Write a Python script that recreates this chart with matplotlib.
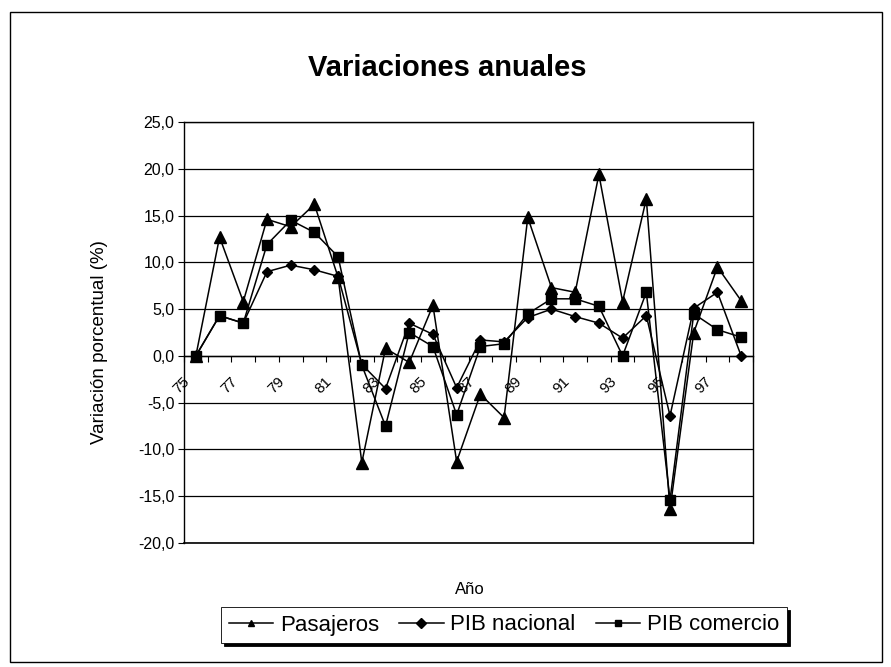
import numpy as np
import matplotlib
matplotlib.use("Agg")
import matplotlib.pyplot as plt
import matplotlib.transforms as mtransforms
from matplotlib.patches import Rectangle
from matplotlib.ticker import FuncFormatter

plt.rcParams['font.family'] = ['Liberation Sans', 'DejaVu Sans']

# data
years = ['75', '76', '77', '78', '79', '80', '81', '82', '83', '84', '85', '86',
         '87', '88', '89', '90', '91', '92', '93', '94', '95', '96', '97', '98']
pasajeros = [0.0, 12.7, 5.8, 14.6, 13.8, 16.2, 8.4, -11.4, 0.8, -0.7, 5.4, -11.3,
             -4.1, -6.6, 14.8, 7.3, 6.8, 19.4, 5.8, 16.8, -16.4, 2.5, 9.5, 5.9]
pib_nacional = [0.0, 4.3, 3.5, 9.0, 9.7, 9.2, 8.5, -0.9, -3.5, 3.5, 2.3, -3.4,
                1.7, 1.5, 4.1, 5.0, 4.2, 3.5, 1.9, 4.3, -6.4, 5.1, 6.8, 0.0]
pib_comercio = [0.0, 4.3, 3.5, 11.9, 14.5, 13.2, 10.6, -1.0, -7.5, 2.5, 1.0, -6.3,
                1.0, 1.3, 4.5, 6.1, 6.1, 5.3, 0.0, 6.8, -15.4, 4.5, 2.8, 2.0]
label_years = years[::2]

fig = plt.figure(figsize=(8.91, 6.67), dpi=100)
ax = fig.add_axes([184 / 891, 1 - 543 / 667, (753 - 184) / 891, (543 - 122) / 667])

x = np.arange(len(years))
ax.plot(x, pasajeros, color='black', lw=1.1, marker='^', ms=8, label='Pasajeros')
ax.plot(x, pib_nacional, color='black', lw=1.1, marker='D', ms=5.5, label='PIB nacional')
ax.plot(x, pib_comercio, color='black', lw=1.1, marker='s', ms=7, label='PIB comercio')

ax.set_xlim(-0.5, len(years) - 0.5)
ax.set_ylim(-20, 25)
ax.set_yticks(np.arange(-20, 26, 5))
ax.yaxis.set_major_formatter(FuncFormatter(lambda v, p: f"{v:.1f}".replace('.', ',')))
ax.tick_params(axis='y', labelsize=11.5, length=4, width=0.8, pad=3)
ax.yaxis.grid(True, color='black', lw=0.9)
ax.axhline(-20, color='black', lw=1.2, clip_on=False)
ax.set_axisbelow(True)

ax.spines['bottom'].set_position(('data', 0))
for s in ax.spines.values():
    s.set_linewidth(1.0)
ax.set_xticks(x[::2], label_years, rotation=45, ha='right', rotation_mode='anchor')
ax.set_xticks(np.arange(-0.5, len(years), 1), minor=True)
ax.tick_params(axis='x', which='major', length=0, labelsize=11, pad=12)
ax.tick_params(axis='x', which='minor', length=4, width=0.8)
shift = mtransforms.ScaledTranslation(-0.13, -0.02, fig.dpi_scale_trans)
for lab in ax.get_xticklabels():
    lab.set_transform(lab.get_transform() + shift)

fig.text(447 / 891, 1 - 68 / 667, 'Variaciones anuales', ha='center', va='center',
         fontsize=21, fontweight='bold')
fig.text(100 / 891, 1 - 342 / 667, 'Variación porcentual (%)', rotation=90,
         ha='center', va='center', fontsize=13.5)
fig.text(470 / 891, 1 - 590 / 667, 'Año', ha='center', va='center', fontsize=12)

leg = fig.legend(loc='center', bbox_to_anchor=(504 / 891, 1 - 625 / 667), ncol=3,
                 fontsize=16, frameon=True, fancybox=False, handlelength=2.0,
                 handletextpad=0.3, columnspacing=0.9, borderpad=0.35,
                 shadow={'color': 'black', 'alpha': 1})
leg.get_frame().set_edgecolor('black')
leg.get_frame().set_linewidth(0.6)
for h in leg.legend_handles:
    h.set_markersize(5)

fig.patches.append(Rectangle((10 / 891, 1 - 662 / 667), 872 / 891, 650 / 667,
                             transform=fig.transFigure, fill=False,
                             edgecolor='black', lw=1.0))

fig.savefig('out.png', dpi=100)
